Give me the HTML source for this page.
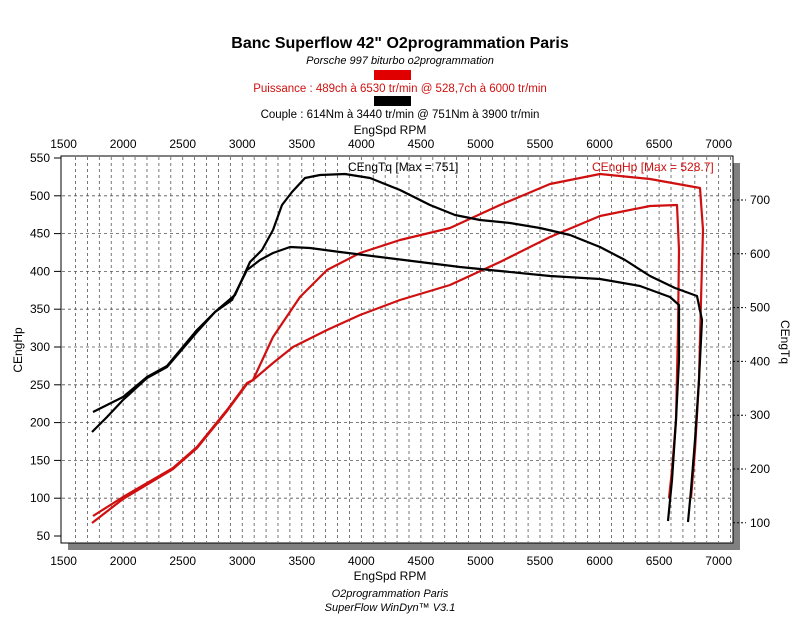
<!DOCTYPE html>
<html><head><meta charset="utf-8"><style>
body{margin:0;background:#fff;}
svg{display:block;font-family:"Liberation Sans",Arial,sans-serif;}
</style></head><body>
<svg width="800" height="617" viewBox="0 0 800 617" xmlns="http://www.w3.org/2000/svg">
<rect width="800" height="617" fill="#fff"/>
<text x="400" y="48" text-anchor="middle" font-size="16" font-weight="bold">Banc Superflow 42" O2programmation Paris</text>
<text x="400" y="64" text-anchor="middle" font-size="11" font-style="italic">Porsche 997 biturbo o2programmation</text>
<rect x="374" y="70" width="37" height="10" fill="#e00000"/>
<text x="400" y="92" text-anchor="middle" font-size="11.5" fill="#d01010">Puissance : 489ch à 6530 tr/min @ 528,7ch à 6000 tr/min</text>
<rect x="374" y="96" width="37" height="10" fill="#000"/>
<text x="400" y="118" text-anchor="middle" font-size="11.5">Couple : 614Nm à 3440 tr/min @ 751Nm à 3900 tr/min</text>
<text x="390" y="134" text-anchor="middle" font-size="12">EngSpd RPM</text>
<rect x="733" y="163" width="7" height="387" fill="#808080"/>
<rect x="68" y="543" width="672" height="7" fill="#808080"/>
<rect x="61" y="156" width="672" height="387" fill="#fff" stroke="#000" stroke-width="1"/>
<g stroke="#555" stroke-width="0.8" stroke-dasharray="3,3" id="grid"></g>
<g id="ticks" font-size="12" fill="#000"></g>
<text x="348" y="171" font-size="12">CEngTq [Max = 751]</text>
<text x="592" y="171" font-size="12" fill="#d01010">CEngHp [Max = 528.7]</text>
<text transform="translate(22,350) rotate(-90)" text-anchor="middle" font-size="12">CEngHp</text>
<text transform="translate(781,342) rotate(90)" text-anchor="middle" font-size="12">CEngTq</text>
<text x="390" y="580" text-anchor="middle" font-size="12">EngSpd RPM</text>
<text x="390" y="597" text-anchor="middle" font-size="11" font-style="italic">O2programmation Paris</text>
<text x="390" y="611" text-anchor="middle" font-size="11" font-style="italic">SuperFlow WinDyn™ V3.1</text>
<g fill="none" stroke-width="2.2" stroke-linejoin="round">
<polyline stroke="#d01010" points="93,516 123,497 173,468 197,447 227,410 247,383 253,380 273,337 300,297 327,270 360,253 400,240 450,228 500,205 550,184 600,174 650,179 700,188 703,230 701,300 699,380 695,450 691,498"/>
<polyline stroke="#d01010" points="92,523 123,499 173,469 197,448 227,411 247,384 253,380 273,363 293,347 327,330 360,315 400,300 450,285 500,262 550,237 600,216 650,206 677,205 679,250 678,330 676,420 672,470 669,498"/>
<polyline stroke="#000" points="92,432 107,417 123,400 147,378 167,367 197,332 215,312 235,295 250,262 262,250 273,230 282,205 292,192 305,178 320,175 345,174 370,178 400,190 430,205 455,215 480,220 510,223 540,228 570,235 600,247 625,260 650,276 675,288 697,296 702,320 699,380 695,440 691,490 688,522"/>
<polyline stroke="#000" points="93,412 123,397 147,377 167,366 197,330 215,312 232,300 247,270 260,260 273,253 290,247 310,248 340,252 380,257 420,262 460,267 500,271 550,276 600,279 640,286 670,297 679,305 679,360 676,420 672,480 668,521"/>
</g>
<script>
var g=document.getElementById('grid'),t=document.getElementById('ticks'),ns="http://www.w3.org/2000/svg";
function el(p,tag,a,txt){var e=document.createElementNS(ns,tag);for(var k in a)e.setAttribute(k,a[k]);if(txt!=null)e.textContent=txt;p.appendChild(e);}
function X(r){return 63.6+(r-1500)*0.1191;}
for(var r=1600;r<=7100;r+=100){el(g,'line',{x1:X(r),x2:X(r),y1:157,y2:542});}
for(var v=100;v<=500;v+=50){var y=158+(550-v)*0.756;el(g,'line',{x1:62,x2:732,y1:y,y2:y});}
for(var r=1500;r<=7000;r+=500){el(t,'text',{x:X(r),y:148,'text-anchor':'middle'},r);el(t,'text',{x:X(r),y:565,'text-anchor':'middle'},r);}
for(var v=50;v<=550;v+=50){var y=158+(550-v)*0.756;el(t,'text',{x:50,y:y+4,'text-anchor':'end'},v);el(t,'line',{x1:54,x2:61,y1:y,y2:y,stroke:'#000'});}
for(var n=100;n<=700;n+=100){var y=200+(700-n)*0.538;el(t,'text',{x:750,y:y+4},n);el(t,'line',{x1:733,x2:746,y1:y,y2:y,stroke:'#000','stroke-dasharray':'2,2'});}
</script>
</svg>
</body></html>
